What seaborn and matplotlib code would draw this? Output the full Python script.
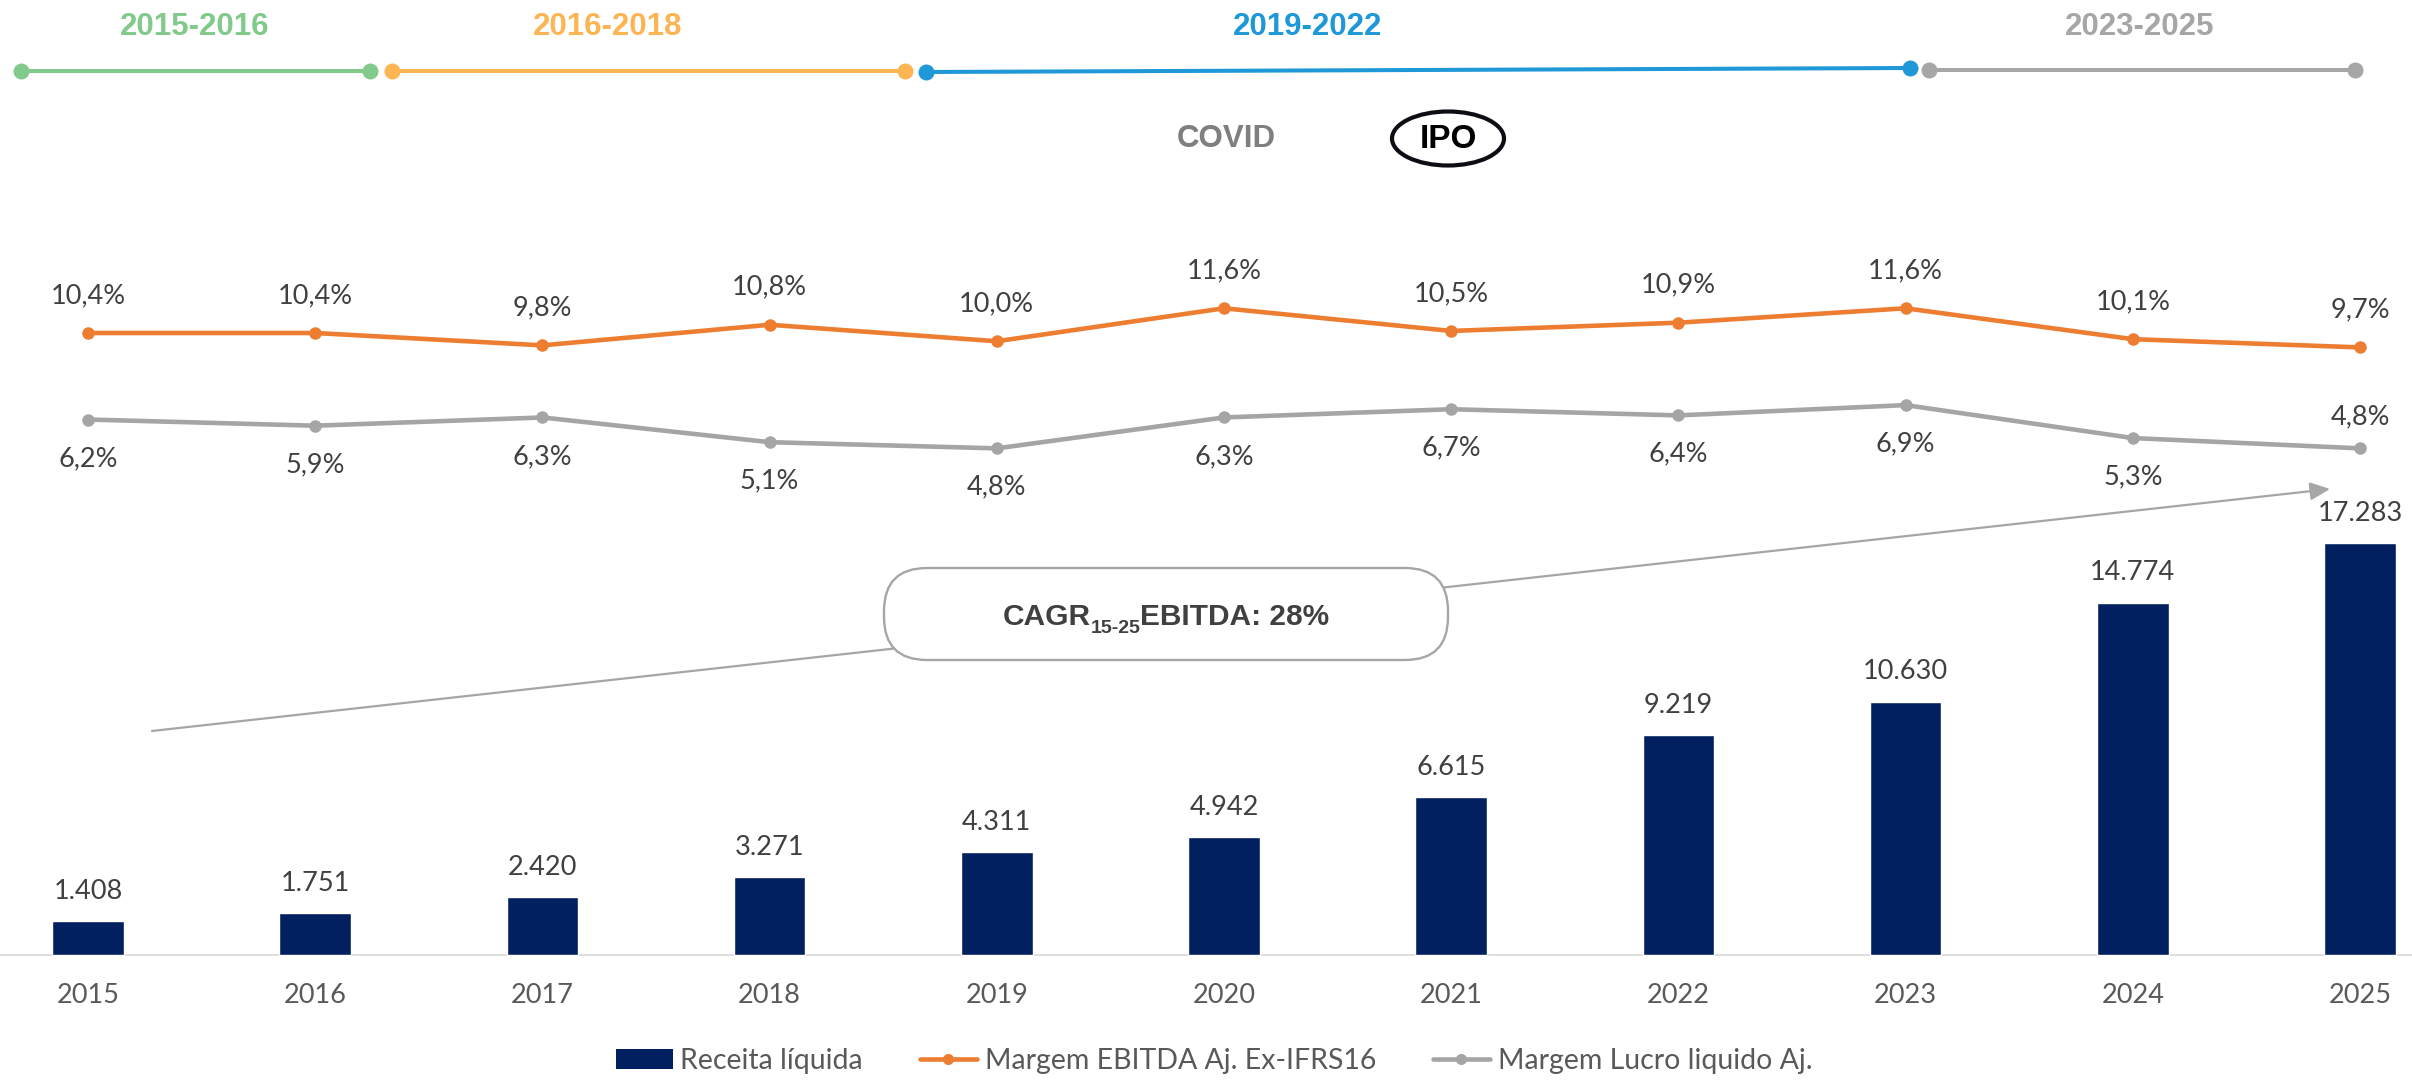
import numpy as np
import pandas as pd
import matplotlib
matplotlib.use("Agg")
import matplotlib.pyplot as plt
import seaborn as sns
from matplotlib import transforms as mtransforms
from matplotlib.patches import Ellipse, FancyBboxPatch, FancyArrowPatch, Patch
from matplotlib.lines import Line2D

# ---------------- data ----------------
years = ["2015", "2016", "2017", "2018", "2019", "2020", "2021", "2022", "2023", "2024", "2025"]
receita = [1408, 1751, 2420, 3271, 4311, 4942, 6615, 9219, 10630, 14774, 17283]
margem_ebitda = [10.4, 10.4, 9.8, 10.8, 10.0, 11.6, 10.5, 10.9, 11.6, 10.1, 9.7]
margem_lucro = [6.2, 5.9, 6.3, 5.1, 4.8, 6.3, 6.7, 6.4, 6.9, 5.3, 4.8]
periodos = ["2015-2016", "2016-2018", "2019-2022", "2023-2025"]
eventos = ["COVID", "IPO"]
legend_labels = ["Receita líquida", "Margem EBITDA Aj. Ex-IFRS16", "Margem Lucro liquido Aj."]
cagr_parts = ["CAGR", "15-25", "EBITDA: 28%"]

# ---------------- style ----------------
NAVY = "#022060"
ORANGE = "#ED7D31"
GRAY = "#A5A5A5"
PERIOD_COLORS = ["#82CA8C", "#FDB453", "#1E98D7", "#A6A6A6"]
TXT = "#404040"
TXT2 = "#595959"

sns.set_style("white")
plt.rcParams["font.family"] = ["Lato", "DejaVu Sans"]
ARIAL = ["Liberation Sans", "DejaVu Sans"]

W, H = 2412, 1081
fig = plt.figure(figsize=(W / 100, H / 100), dpi=100)
ax = fig.add_axes([0, 0, 1, 1])

# pixel (from top-left) -> figure transform for decorations
T = mtransforms.Affine2D().scale(1 / W, -1 / H).translate(0, 1) + fig.transFigure

df = pd.DataFrame({"ano": years, "receita": receita})
sns.barplot(data=df, x="ano", y="receita", color=NAVY, width=0.315,
            saturation=1, ax=ax, zorder=2)

BASE_PX = 955
UNITS_PER_PX = 41.95
X0_PX = 88
STEP = 227.2
ax.set_ylim(-(H - BASE_PX) * UNITS_PER_PX, BASE_PX * UNITS_PER_PX)
ax.axhline(0, color="#D9D9D9", lw=1.2, zorder=1)
ax.axis("off")

for i, v in enumerate(receita):
    ax.annotate(f"{v:,}".replace(",", "."), (i, v), xytext=(0, 21.5),
                textcoords="offset points", ha="center", va="center",
                fontsize=19.5, color=TXT)
for i, y in enumerate(years):
    ax.annotate(y, (i, 0), xytext=(0, -29), textcoords="offset points",
                ha="center", va="center", fontsize=19.5, color=TXT2)

# lines on a twin axis
ax2 = ax.twinx()
xpos = np.arange(len(years))
sns.lineplot(x=xpos, y=margem_ebitda, ax=ax2, color=ORANGE, lw=3.3,
             marker="o", markersize=9, markeredgewidth=0)
sns.lineplot(x=xpos, y=margem_lucro, ax=ax2, color=GRAY, lw=3.3,
             marker="o", markersize=9, markeredgewidth=0)
PCT_ANCHOR_PX = 333
PX_PER_PCT = 20.6
ax2.set_ylim(10.4 - (H - PCT_ANCHOR_PX) / PX_PER_PCT, 10.4 + PCT_ANCHOR_PX / PX_PER_PCT)
ax2.axis("off")


def pct(v):
    return f"{v:.1f}%".replace(".", ",")


for i, v in enumerate(margem_ebitda):
    ax2.annotate(pct(v), (i, v), xytext=(0, 27), textcoords="offset points",
                 ha="center", va="center", fontsize=19.5, color=TXT)
for i, v in enumerate(margem_lucro):
    dy = 23 if i == len(margem_lucro) - 1 else -28
    ax2.annotate(pct(v), (i, v), xytext=(0, dy), textcoords="offset points",
                 ha="center", va="center", fontsize=19.5, color=TXT)

ax.set_xlim(-X0_PX / STEP, (W - X0_PX) / STEP)

# ---------------- timeline ----------------
segments = [(21, 71, 370, 71), (392, 71, 905, 71), (926, 72, 1910, 68), (1929, 70, 2355, 70)]
label_x = [195, 608, 1308, 2140]
for (x0, y0, x1, y1), col, lab, lx in zip(segments, PERIOD_COLORS, periodos, label_x):
    fig.add_artist(Line2D([x0, x1], [y0, y1], transform=T, color=col, lw=2.9,
                          marker="o", markersize=11.5, markeredgewidth=0))
    fig.text(lx, 27, lab, transform=T, ha="center", va="center", fontsize=22.5,
             fontweight="bold", color=col, family=ARIAL)

fig.text(1226, 139, eventos[0], transform=T, ha="center", va="center",
         fontsize=22.5, fontweight="bold", color="#7F7F7F", family=ARIAL)
fig.text(1448, 139, eventos[1], transform=T, ha="center", va="center",
         fontsize=24, fontweight="bold", color="black", family=ARIAL)
fig.add_artist(Ellipse((1448, 138.5), 112, 54, transform=T, fill=False,
                       ec="#0D0D14", lw=3))

# ---------------- CAGR arrow + box ----------------
fig.add_artist(FancyArrowPatch((152, 731), (2330, 489), transform=T,
                               arrowstyle="-|>,head_length=0.55,head_width=0.25",
                               mutation_scale=22, color="#A6A6A6", lw=1.6,
                               shrinkA=0, shrinkB=0, zorder=2))
fig.add_artist(FancyBboxPatch((884, 568), 564, 92,
                              boxstyle="round,pad=0,rounding_size=43", transform=T,
                              fc="white", ec="#A6A6A6", lw=1.7, zorder=3))

renderer = fig.canvas.get_renderer()
sizes = [21.5, 14, 21.5]
drops = [0, 8, 0]
texts = []
for s, fs in zip(cagr_parts, sizes):
    t = fig.text(0, 0, s, transform=T, ha="left", va="baseline", fontsize=fs,
                 fontweight="bold", color=TXT, family=ARIAL, zorder=4)
    texts.append(t)
widths = [t.get_window_extent(renderer=renderer).width for t in texts]
x = 1166 - sum(widths) / 2
baseline = 625
for t, w, d in zip(texts, widths, drops):
    t.set_position((x, baseline + d))
    x += w

# ---------------- legend ----------------
handles = [
    Patch(facecolor=NAVY, edgecolor="none"),
    Line2D([], [], color=ORANGE, lw=3.3, marker="o", markersize=8, markeredgewidth=0),
    Line2D([], [], color=GRAY, lw=3.3, marker="o", markersize=8, markeredgewidth=0),
]
fig.legend(handles, legend_labels, loc="center",
           bbox_to_anchor=(1214 / W, 1 - 1061 / H), ncol=3, frameon=False,
           fontsize=20.5, handlelength=2.0, handletextpad=0.27, columnspacing=2.0,
           labelcolor=TXT2, numpoints=1)

fig.savefig("out.png", dpi=100)
